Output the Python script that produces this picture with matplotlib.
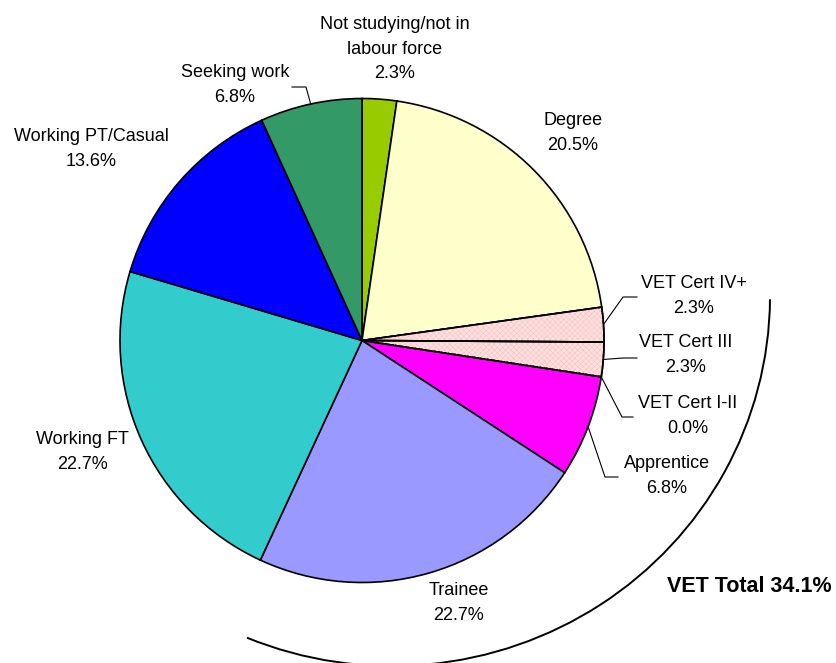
import numpy as np
import matplotlib
matplotlib.use("Agg")
from matplotlib import pyplot as plt
from matplotlib.patches import Arc, Wedge

# 数据
categories = ["Not studying/not in\nlabour force", "Degree", "VET Cert IV+",
              "VET Cert III", "VET Cert I-II", "Apprentice", "Trainee",
              "Working FT", "Working PT/Casual", "Seeking work"]
shares = [2.3, 20.5, 2.3, 2.3, 0.0, 6.8, 22.7, 22.7, 13.6, 6.8]
colors = ["#99CC00", "#FFFFCC", "#FFE0E0", "#FFE0E0", "#FFE0E0",
          "#FF00FF", "#9999FF", "#33CCCC", "#0000FF", "#339966"]
vet_groups = ["VET Cert IV+", "VET Cert III", "VET Cert I-II", "Apprentice", "Trainee"]

# 布局（像素坐标）
label_xy = [(395, 49), (573, 133), (694, 296), (686, 355), (688, 416),
            (667, 476), (459, 603), (82, 452), (91, 149), (235, 85)]
# 引导线拐点: 类别 -> [拐点, 终点]
leaders = {
    "VET Cert IV+": [(623, 297), (637, 297)],
    "VET Cert III": [(623, 358), (637, 358)],
    "VET Cert I-II": [(622, 417), (633, 417)],
    "Apprentice": [(605, 477), (618, 477)],
    "Seeking work": [(306, 87), (292, 87)],
}
hatched = ["VET Cert IV+", "VET Cert III"]

plt.rcParams["font.family"] = ["Liberation Sans", "DejaVu Sans"]
plt.rcParams["hatch.linewidth"] = 0.4

fig = plt.figure(figsize=(8.36, 6.63), dpi=100)
ax = fig.add_axes([0, 0, 1, 1])

center = (362, 340.5)
radius = 242
wedges, _ = ax.pie(shares, colors=colors, startangle=-90, counterclock=True,
                   center=center, radius=radius, normalize=True,
                   wedgeprops=dict(edgecolor="black", linewidth=1.2))
ax.set_xlim(0, 836)
ax.set_ylim(663, 0)
ax.set_aspect("equal")
ax.axis("off")

# 细网纹
for w, name in zip(wedges, categories):
    if name in hatched:
        ax.add_patch(Wedge(w.center, w.r, w.theta1, w.theta2, facecolor="none",
                           edgecolor="#F5C2C2", hatch="xxxxxx", linewidth=0, zorder=w.get_zorder() + 0.1))
        ax.add_patch(Wedge(w.center, w.r, w.theta1, w.theta2, facecolor="none",
                           edgecolor="black", linewidth=1.2, zorder=w.get_zorder() + 0.2))

for w, name, val, (lx, ly) in zip(wedges, categories, shares, label_xy):
    ax.text(lx, ly, f"{name}\n{val:.1f}%", ha="center", va="center",
            fontsize=13, linespacing=1.6, color="black")
    if name in leaders:
        mid = np.deg2rad((w.theta1 + w.theta2) / 2)
        pts = [(w.center[0] + w.r * np.cos(mid), w.center[1] + w.r * np.sin(mid))] + leaders[name]
        xs, ys = zip(*pts)
        ax.plot(xs, ys, color="black", linewidth=0.8)

# VET 合计弧线
ax.add_patch(Arc((392, 296), 2 * 378, 2 * 370, theta1=0.5, theta2=113,
                 color="black", linewidth=1.4))
vet_total = sum(v for c, v in zip(categories, shares) if c in vet_groups)
ax.text(749, 587, f"VET Total {vet_total:.1f}%", ha="center", va="center",
        fontsize=15.5, fontweight="bold")

fig.savefig("out.png", dpi=100)
